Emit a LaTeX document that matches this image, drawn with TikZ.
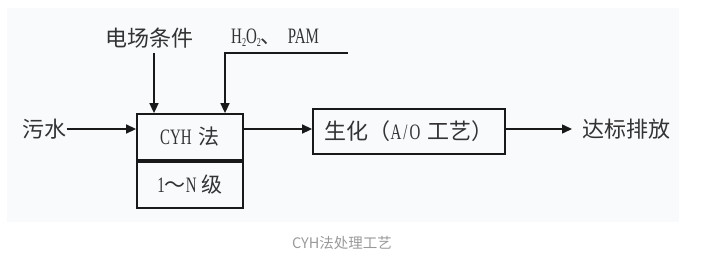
\documentclass[tikz,border=0pt]{standalone}
\usepackage{fontspec}
\setmainfont{Liberation Serif}
\newfontfamily\cjk{Noto Sans CJK SC}
\newfontfamily\lat[FakeStretch=0.68]{Liberation Serif}
\usetikzlibrary{arrows.meta,calc}
\definecolor{txt}{HTML}{333333}
\definecolor{bgc}{HTML}{F9FAFC}
\definecolor{capc}{HTML}{999999}
\newcommand{\szbig}{\fontsize{22}{24}\selectfont}
\newcommand{\szmid}{\fontsize{21}{23}\selectfont}
\begin{document}
\begin{tikzpicture}[x=1pt,y=-1pt,
  boxst/.style={draw=black!90,line width=1.8pt,inner sep=0pt,text=txt},
  lab/.style={inner sep=0pt,text=txt},
  arr/.style={draw=black!90,line width=1.5pt,-{Triangle[length=10pt,width=9pt]}},
  ln/.style={draw=black!90,line width=1.5pt}]
\useasboundingbox (0,0) rectangle (711,266);
\fill[bgc] (7,8) rectangle (679,222);
% boxes
\node[boxst,minimum width=106pt,minimum height=46pt] (cyh) at (190,137) {\szmid{\lat\fontsize{22}{24}\selectfont CYH}\hspace{7pt}{\cjk 法}};
\node[boxst,minimum width=106pt,minimum height=46pt,anchor=north] (lev) at (cyh.south) {\szmid{\lat\fontsize{22}{24}\selectfont 1}{\cjk ～}{\lat\fontsize{22}{24}\selectfont N}\hspace{5pt}{\cjk 级}};
\node[boxst,minimum width=192pt,minimum height=45pt] (sh) at (409,131.5) {\szbig{\cjk 生化（}{\lat A\hspace{2pt}/\hspace{2pt}O}\hspace{7pt}{\cjk 工艺）}};
% labels
\node[lab] (ws) at (44.5,129) {\szbig\cjk 污水};
\node[lab,anchor=west] (db) at (582,129) {\szbig\cjk 达标排放};
\node[lab] (dc) at (149,38) {\szbig\cjk 电场条件};
\node[lab,anchor=west] (hp) at (231,38) {\fontsize{22}{24}\selectfont\lat H\raisebox{-3pt}{\fontsize{12}{12}\selectfont 2}O\raisebox{-3pt}{\fontsize{12}{12}\selectfont 2}{\cjk\szmid 、}\hspace{6pt}PAM};
\coordinate (hpend) at (348,53);
\coordinate (hpc) at (225,53);
\coordinate (dctop) at (154,53);
% connectors
\draw[arr] (ws.east) -- (ws.east -| cyh.west);
\draw[arr] (ws.east -| cyh.east) -- (ws.east -| sh.west);
\draw[arr] (ws.east -| sh.east) -- ($(db.west)+(-10,0)$);
\draw[arr] (dctop) -- (dctop |- cyh.north);
\draw[arr] (hpend) -- (hpc) -- (hpc |- cyh.north);
% caption
\node[inner sep=0pt,text=capc] (cap) at (342,243) {\fontsize{14.5}{16}\selectfont\cjk CYH法处理工艺};
\end{tikzpicture}
\end{document}
